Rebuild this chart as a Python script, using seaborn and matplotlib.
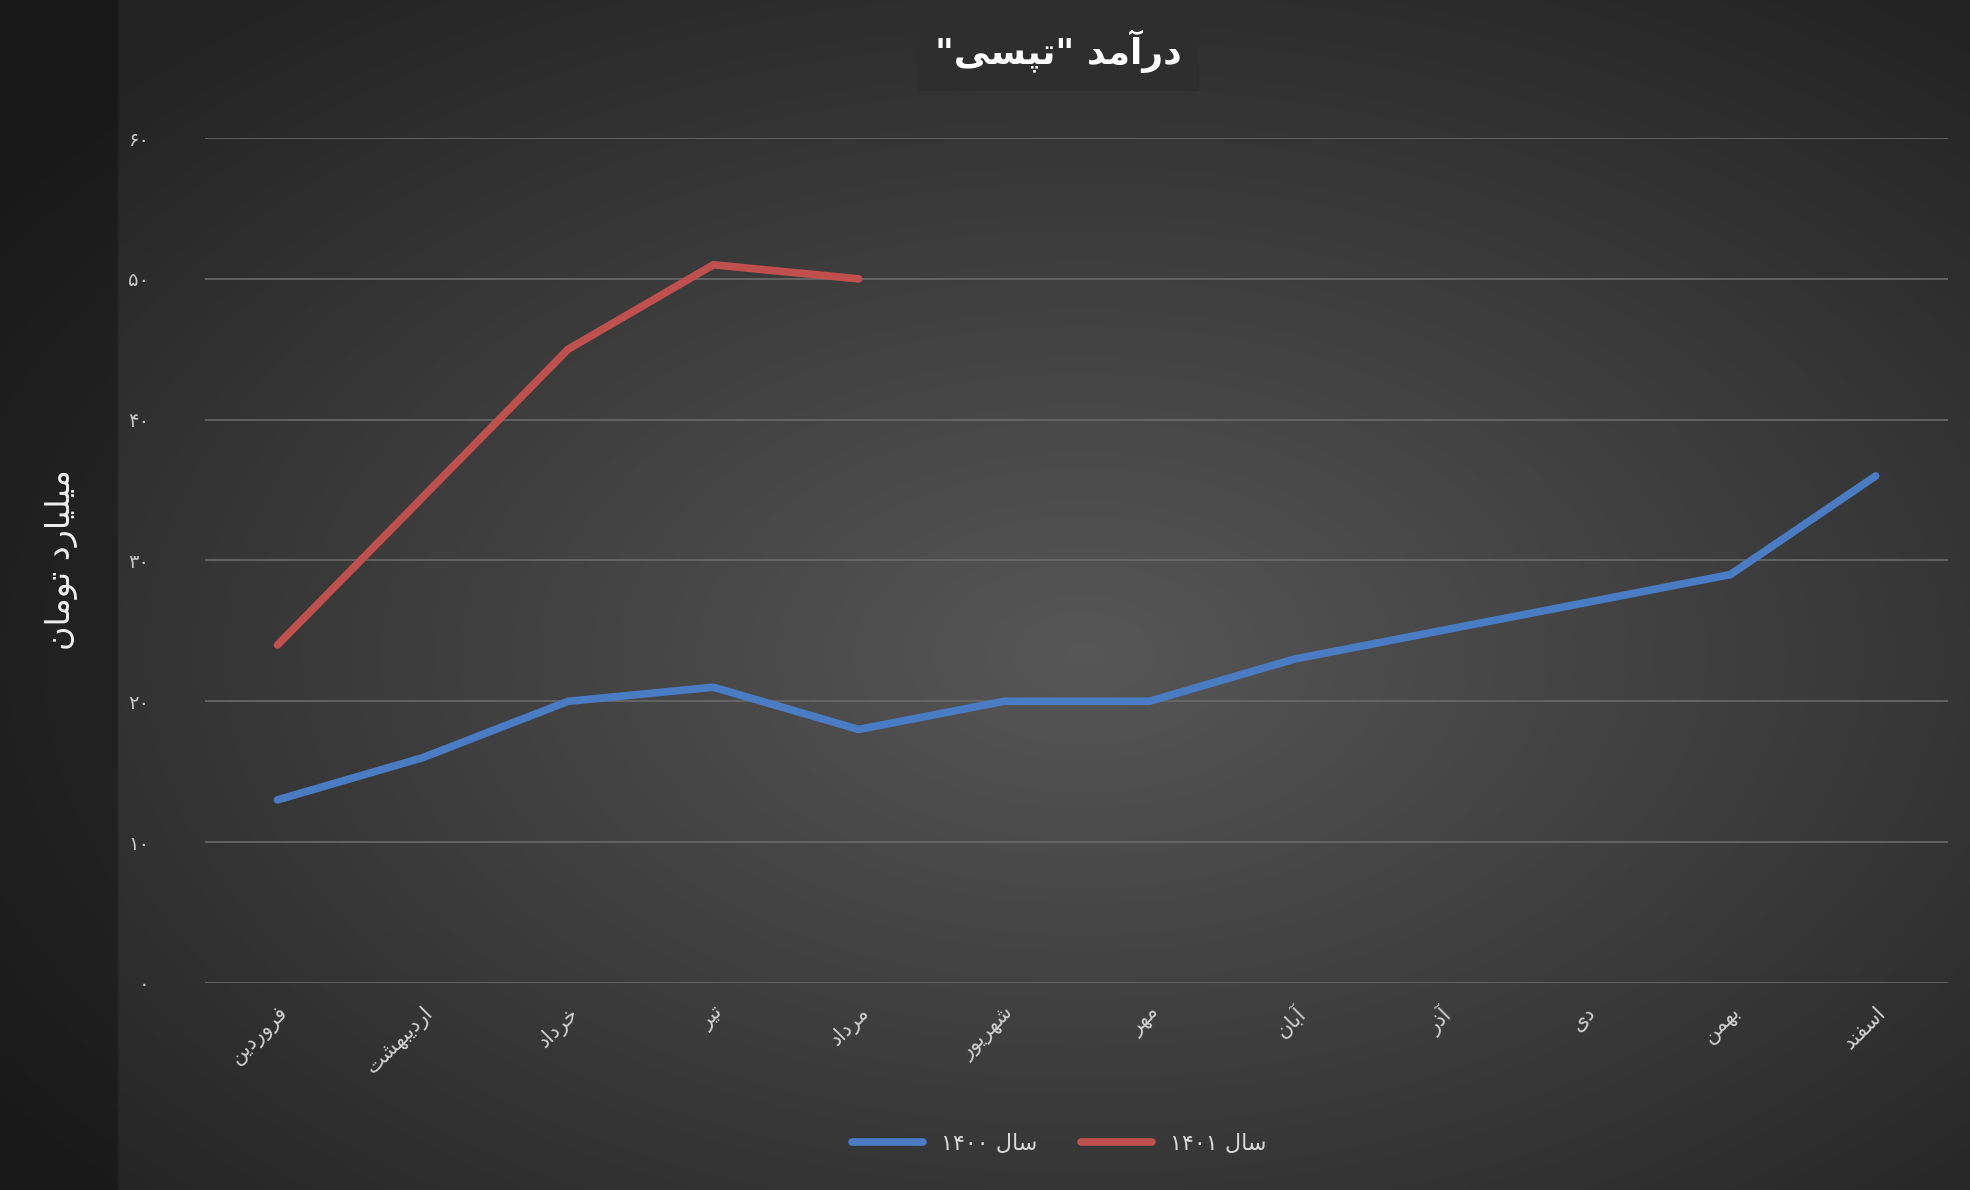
import numpy as np
import pandas as pd
import matplotlib
matplotlib.use("Agg")
import matplotlib.pyplot as plt
import seaborn as sns

# ---- minimal Persian shaping (presentation forms + visual order) ----
FORMS = {  # iso, fin, ini, med
    'ا': ('\uFE8D', '\uFE8E', None, None), 'آ': ('\uFE81', '\uFE82', None, None),
    'د': ('\uFEA9', '\uFEAA', None, None), 'ذ': ('\uFEAB', '\uFEAC', None, None),
    'ر': ('\uFEAD', '\uFEAE', None, None), 'ز': ('\uFEAF', '\uFEB0', None, None),
    'و': ('\uFEED', '\uFEEE', None, None),
    'ب': ('\uFE8F', '\uFE90', '\uFE91', '\uFE92'), 'پ': ('\uFB56', '\uFB57', '\uFB58', '\uFB59'),
    'ت': ('\uFE95', '\uFE96', '\uFE97', '\uFE98'), 'خ': ('\uFEA5', '\uFEA6', '\uFEA7', '\uFEA8'),
    'س': ('\uFEB1', '\uFEB2', '\uFEB3', '\uFEB4'), 'ش': ('\uFEB5', '\uFEB6', '\uFEB7', '\uFEB8'),
    'ف': ('\uFED1', '\uFED2', '\uFED3', '\uFED4'), 'ق': ('\uFED5', '\uFED6', '\uFED7', '\uFED8'),
    'ل': ('\uFEDD', '\uFEDE', '\uFEDF', '\uFEE0'), 'م': ('\uFEE1', '\uFEE2', '\uFEE3', '\uFEE4'),
    'ن': ('\uFEE5', '\uFEE6', '\uFEE7', '\uFEE8'), 'ه': ('\uFEE9', '\uFEEA', '\uFEEB', '\uFEEC'),
    'ی': ('\uFEEF', '\uFEF0', '\uFEF3', '\uFEF4'),
}

def fa(s):
    out = []
    for i, c in enumerate(s):
        if c not in FORMS:
            out.append(c); continue
        f = FORMS[c]
        prev = s[i-1] if i > 0 else ''
        nxt = s[i+1] if i + 1 < len(s) else ''
        jp = prev in FORMS and FORMS[prev][2] is not None
        jn = nxt in FORMS and f[2] is not None
        if jp and jn: out.append(f[3])
        elif jp: out.append(f[1])
        elif jn: out.append(f[2])
        else: out.append(f[0])
    return ''.join(out[::-1])

# ---- data ----
months = ['فروردین', 'اردیبهشت', 'خرداد', 'تیر', 'مرداد', 'شهریور',
          'مهر', 'آبان', 'آذر', 'دی', 'بهمن', 'اسفند']
income_1400 = [13, 16, 20, 21, 18, 20, 20, 23, 25, 27, 29, 36]
income_1401 = [24, 34.5, 45, 51, 50]
series_names = ['سال ۱۴۰۰', 'سال ۱۴۰۱']
yticks = [0, 10, 20, 30, 40, 50, 60]
ytick_labels = ['۰', '۱۰', '۲۰', '۳۰', '۴۰', '۵۰', '۶۰']
title = 'درآمد "تپسی"'
ylabel = 'میلیارد تومان'

def legend_label(s):
    word, num = s.split(' ')
    return num + ' ' + fa(word)

rows = []
for i, v in enumerate(income_1400):
    rows.append((i, v, legend_label(series_names[0])))
for i, v in enumerate(income_1401):
    rows.append((i, v, legend_label(series_names[1])))
df = pd.DataFrame(rows, columns=['month', 'value', 'series'])

sns.set_theme(style='dark')
plt.rcParams['font.family'] = ['DejaVu Sans']

fig = plt.figure(figsize=(19.7, 11.9), dpi=100)
# background radial gradient
bg = fig.add_axes([0, 0, 1, 1], zorder=-10)
yy, xx = np.mgrid[0:1:400j, 0:1:600j]
r = np.sqrt(((xx - 0.55) / 0.75) ** 2 + ((yy - 0.45) / 0.75) ** 2)
val = np.clip(0.34 - 0.22 * r, 0.14, 0.34)
img = np.dstack([val, val, val])
img[:, :36] *= 0.7
bg.imshow(img, aspect='auto', extent=[0, 1, 0, 1], origin='lower')
bg.axis('off')

ax = fig.add_axes([0.104, 0.174, 0.885, 0.71])
ax.set_facecolor('none')
sns.lineplot(data=df, x='month', y='value', hue='series',
             palette=['#4a7cc4', '#c0504d'], linewidth=5.5, ax=ax, legend=True)
ax.set_xlim(-0.5, 11.5)
ax.set_ylim(0, 60)
ax.set_yticks(yticks)
ax.set_yticklabels(ytick_labels, color='#c8c8c8', fontsize=14)
ax.set_xticks(range(len(months)))
ax.set_xticklabels([fa(m) for m in months], rotation=45, ha='right',
                   rotation_mode='anchor', color='#d0d0d0', fontsize=15)
ax.tick_params(axis='y', pad=40, length=0)
ax.tick_params(axis='x', pad=14, length=0)
ax.yaxis.grid(True, color='#6a6a6a', linewidth=1.2)
ax.xaxis.grid(False)
for s in ax.spines.values():
    s.set_visible(False)
ax.set_xlabel('')
ax.set_ylabel('')

leg = ax.legend(loc='upper center', bbox_to_anchor=(0.49, -0.155), ncol=2,
                frameon=False, fontsize=16, handlelength=3.2, columnspacing=2)
for t in leg.get_texts():
    t.set_color('#d8d8d8')

fig.text(0.031, 0.53, fa(ylabel), rotation=90, ha='center', va='center',
         color='#f0f0f0', fontsize=24)
fig.text(0.537, 0.957, fa(title), ha='center', va='center', color='white',
         fontsize=26, fontweight='bold',
         bbox=dict(boxstyle='square,pad=0.5', facecolor='#2e2e2e', edgecolor='none'))

fig.savefig('out.png', dpi=100)
